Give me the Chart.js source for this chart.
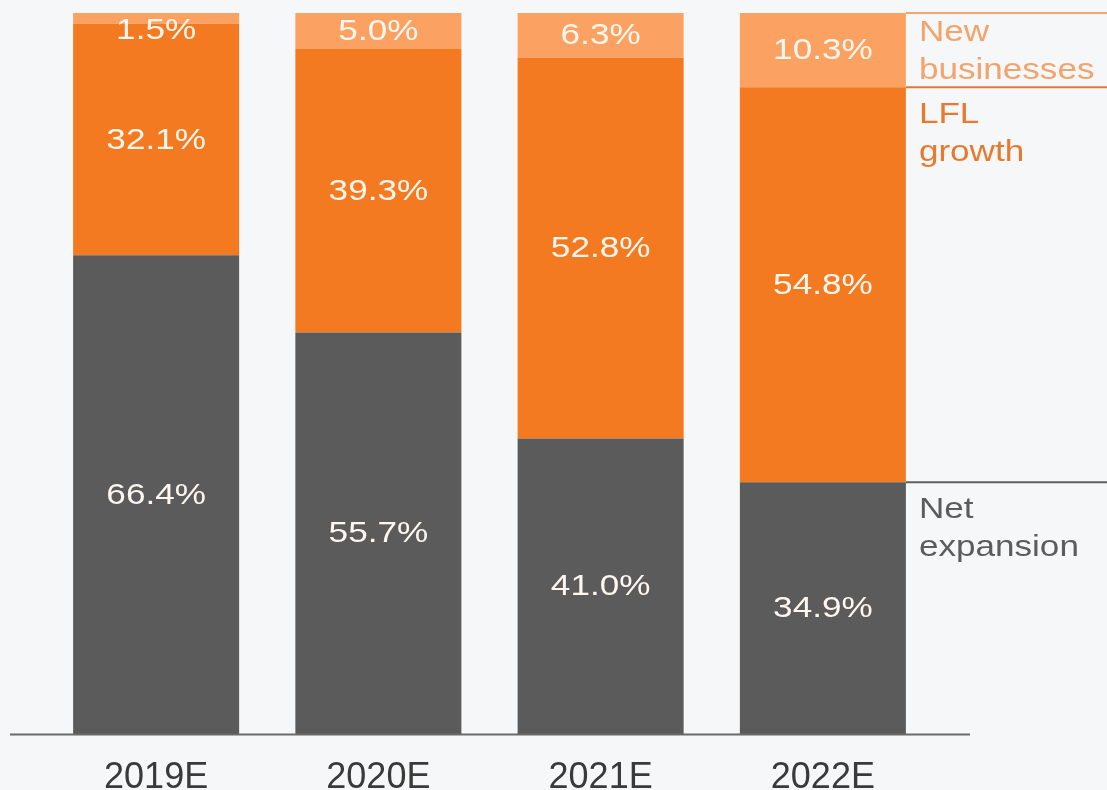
<!DOCTYPE html>
<html>
<head>
<meta charset="utf-8">
<script src="https://cdn.jsdelivr.net/npm/chart.js@4.4.1/dist/chart.umd.min.js"></script>
<style>
  html, body { margin: 0; padding: 0; background: #f6f7f8; }
  #wrap { width: 1107px; height: 790px; position: relative; }
</style>
</head>
<body>
<div id="wrap"><canvas id="c" width="1107" height="790"></canvas></div>
<script>
// Revenue growth contribution by driver, share of total (%)
const years = ['2019E', '2020E', '2021E', '2022E'];
const netExpansion = [66.4, 55.7, 41.0, 34.9];
const lflGrowth = [32.1, 39.3, 52.8, 54.8];
const newBusinesses = [1.5, 5.0, 6.3, 10.3];
const seriesNames = [['Net', 'expansion'], ['LFL', 'growth'], ['New', 'businesses']];

const FONT = '"Liberation Sans", Arial, Helvetica, sans-serif';
const WIDE = 1.17; // horizontal stretch of the label type

// Text drawn slightly wide, like the condensed-to-wide Helvetica of the deck
function wideText(ctx, text, x, y, align) {
  ctx.save();
  ctx.translate(x, y);
  ctx.scale(WIDE, 1);
  ctx.textAlign = align;
  ctx.fillText(text, 0, 0);
  ctx.restore();
}

// Page background
const backdrop = {
  id: 'backdrop',
  beforeDraw(chart) {
    const { ctx, width, height } = chart;
    ctx.save();
    ctx.fillStyle = '#f6f7f8';
    ctx.fillRect(0, 0, width, height);
    ctx.restore();
  }
};

// Baseline rule under the bars
const baseline = {
  id: 'baseline',
  afterDatasetsDraw(chart) {
    const { ctx, chartArea } = chart;
    const y = chart.scales.y.getPixelForValue(0);
    ctx.save();
    ctx.strokeStyle = '#6a6a6a';
    ctx.lineWidth = 2;
    ctx.beginPath();
    ctx.moveTo(10, y + 0.5);
    ctx.lineTo(chartArea.right + 36, y + 0.5);
    ctx.stroke();
    ctx.restore();
  }
};

// Percentage value centred in each segment
const segmentLabels = {
  id: 'segmentLabels',
  afterDatasetsDraw(chart) {
    const { ctx } = chart;
    ctx.save();
    ctx.font = '30px ' + FONT;
    ctx.fillStyle = '#fff7ef';
    ctx.textBaseline = 'middle';
    chart.data.datasets.forEach((ds, di) => {
      const meta = chart.getDatasetMeta(di);
      meta.data.forEach((bar, i) => {
        const cy = Math.max((bar.y + bar.base) / 2, 30);
        wideText(ctx, ds.data[i].toFixed(1) + '%', bar.x, cy + 1, 'center');
      });
    });
    ctx.restore();
  }
};

// Series names to the right of the last bar, each under a rule at its segment top
const sideLegend = {
  id: 'sideLegend',
  afterDatasetsDraw(chart) {
    const { ctx, width } = chart;
    const last = chart.data.labels.length - 1;
    ctx.save();
    ctx.font = '30px ' + FONT;
    ctx.textBaseline = 'middle';
    chart.data.datasets.forEach((ds, di) => {
      const bar = chart.getDatasetMeta(di).data[last];
      const x0 = bar.x + bar.width / 2;
      const top = Math.min(bar.y, bar.base);
      const bottom = Math.max(bar.y, bar.base);
      ctx.strokeStyle = ds.ruleColor;
      ctx.lineWidth = 2;
      ctx.beginPath();
      ctx.moveTo(x0, top);
      ctx.lineTo(width, top);
      ctx.stroke();
      ctx.fillStyle = ds.nameColor;
      const lines = seriesNames[di];
      const lh = 38;
      let first = top + 27;
      if (bottom - top < 130) first = (top + bottom) / 2 - lh / 2 + 2;
      lines.forEach((t, k) => wideText(ctx, t, x0 + 13, first + k * lh, 'left'));
    });
    ctx.restore();
  }
};

new Chart(document.getElementById('c'), {
  type: 'bar',
  data: {
    labels: years,
    datasets: [
      { label: 'Net expansion', data: netExpansion, backgroundColor: '#5b5b5b',
        ruleColor: '#5f5f5f', nameColor: '#5c5c5c' },
      { label: 'LFL growth', data: lflGrowth, backgroundColor: '#f47a21',
        ruleColor: '#de7a38', nameColor: '#e67a2e' },
      { label: 'New businesses', data: newBusinesses, backgroundColor: '#fba162',
        ruleColor: '#f5a46e', nameColor: '#f3a36c' }
    ]
  },
  options: {
    responsive: false,
    animation: false,
    devicePixelRatio: 1,
    layout: { padding: { left: 45, right: 173, top: 13, bottom: 0 } },
    datasets: { bar: { categoryPercentage: 1, barPercentage: 0.747, borderWidth: 0 } },
    plugins: { legend: { display: false }, tooltip: { enabled: false } },
    scales: {
      x: {
        stacked: true,
        grid: { display: false },
        border: { display: false },
        ticks: { color: '#3a3a3a', font: { family: FONT, size: 36 }, padding: 14 },
        afterFit(scale) { scale.height = 56; }
      },
      y: { stacked: true, display: false, min: 0, max: 100 }
    }
  },
  plugins: [backdrop, baseline, segmentLabels, sideLegend]
});
</script>
</body>
</html>
